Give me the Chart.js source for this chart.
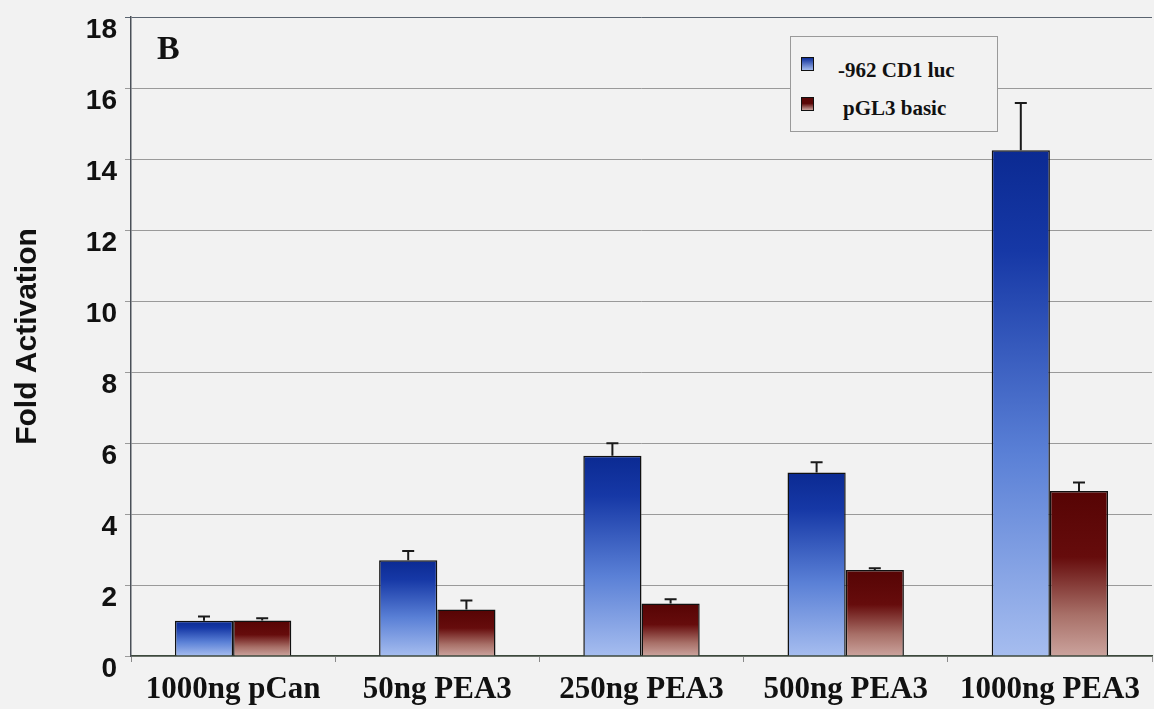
<!DOCTYPE html>
<html>
<head>
<meta charset="utf-8">
<script src="https://cdn.jsdelivr.net/npm/chart.js@4"></script>
<style>
  html, body { margin: 0; padding: 0; background: #f2f2f2; }
  .wrap { position: relative; width: 1154px; height: 709px; }
  .panel { position: absolute; left: 157px; top: 29px; font: bold 34px "Liberation Serif", serif; color: #111; }
  .legend { position: absolute; left: 790px; top: 36px; width: 206px; height: 94px; border: 1px solid #9a9a9a; background: #f2f2f2; }
  .legend .item { position: absolute; font: bold 21px "Liberation Serif", serif; color: #111; white-space: nowrap; }
  .legend .box { position: absolute; width: 11px; height: 12px; border: 1px solid #111; }
</style>
</head>
<body>
<div class="wrap">
  <canvas id="myChart" width="1154" height="709"></canvas>
  <div class="panel">B</div>
  <div class="legend">
    <div class="box" style="left:10px; top:20px; background:linear-gradient(#0d2e9a, #a3bbee);"></div>
    <div class="item" style="left:47px; top:21px;">-962 CD1 luc</div>
    <div class="box" style="left:10px; top:60px; background:linear-gradient(#5a0606 45%, #c9a19b);"></div>
    <div class="item" style="left:52px; top:59px;">pGL3 basic</div>
  </div>
</div>
<script>
const categories = ['1000ng pCan', '50ng PEA3', '250ng PEA3', '500ng PEA3', '1000ng PEA3'];
const seriesNames = ['-962 CD1 luc', 'pGL3 basic'];
const cd1Values = [0.99, 2.70, 5.64, 5.17, 14.25];
const cd1Errors = [0.12, 0.26, 0.35, 0.29, 1.33];
const pglValues = [1.0, 1.31, 1.48, 2.42, 4.65];
const pglErrors = [0.06, 0.25, 0.12, 0.05, 0.24];
const yTicks = [0, 2, 4, 6, 8, 10, 12, 14, 16, 18];

// вертикальный градиент на каждый столбец
function barGradient(stops) {
  return function (context) {
    const chart = context.chart;
    if (!chart.chartArea || context.raw === undefined) return stops[0][1];
    const y = chart.scales.y;
    const top = y.getPixelForValue(context.raw);
    const bottom = y.getPixelForValue(0);
    const g = chart.ctx.createLinearGradient(0, top, 0, bottom);
    stops.forEach(s => g.addColorStop(s[0], s[1]));
    return g;
  };
}

const blueStops = [[0, '#0b2a92'], [0.2, '#1638a6'], [0.6, '#5a80d6'], [1, '#a6bdef']];
const redStops = [[0, '#560404'], [0.4, '#660c0c'], [0.75, '#a87068'], [1, '#cba39d']];

const errorBars = {
  id: 'errorBars',
  afterDatasetsDraw(chart) {
    const ctx = chart.ctx;
    const y = chart.scales.y;
    ctx.save();
    ctx.strokeStyle = '#1a1a1a';
    ctx.lineWidth = 2;
    chart.data.datasets.forEach((ds, di) => {
      const meta = chart.getDatasetMeta(di);
      meta.data.forEach((bar, i) => {
        const top = y.getPixelForValue(ds.data[i] + ds.errors[i]);
        ctx.beginPath();
        ctx.moveTo(bar.x, bar.y);
        ctx.lineTo(bar.x, top);
        ctx.moveTo(bar.x - 6, top);
        ctx.lineTo(bar.x + 6, top);
        ctx.stroke();
      });
    });
    ctx.restore();
  }
};

const ctx = document.getElementById('myChart').getContext('2d');

const myChart = new Chart(ctx, {
  type: 'bar',
  data: {
    labels: categories,
    datasets: [{
      label: seriesNames[0],
      data: cd1Values,
      errors: cd1Errors,
      backgroundColor: barGradient(blueStops),
      borderColor: '#111',
      borderWidth: 1.5
    }, {
      label: seriesNames[1],
      data: pglValues,
      errors: pglErrors,
      backgroundColor: barGradient(redStops),
      borderColor: '#111',
      borderWidth: 1.5
    }]
  },
  options: {
    responsive: false,
    animation: false,
    layout: { autoPadding: false, padding: { top: 17, right: 2, left: 0, bottom: 0 } },
    categoryPercentage: 0.57,
    barPercentage: 1.0,
    plugins: {
      legend: { display: false },
      tooltip: { enabled: false }
    },
    scales: {
      x: {
        grid: {
          drawOnChartArea: false,
          color: '#8a8a8a',
          tickLength: 6
        },
        border: { color: '#3d4a3d', width: 1.5 },
        ticks: {
          color: '#111',
          padding: 9,
          font: { family: 'Liberation Serif', weight: 'bold', size: 31 }
        },
        afterFit: scale => { scale.height = 53; }
      },
      y: {
        min: 0,
        max: 18,
        afterBuildTicks: scale => { scale.ticks = yTicks.map(v => ({ value: v })); },
        grid: {
          color: c => c.tick && c.tick.value === 18 ? '#5a6470' : '#9a9a9a',
          lineWidth: 1,
          tickLength: 6
        },
        border: { color: '#4a5058', width: 1.5 },
        ticks: {
          color: '#111',
          padding: 8,
          labelOffset: 13,
          font: { family: 'Liberation Sans', weight: 'bold', size: 28, lineHeight: 1 }
        },
        title: {
          display: true,
          text: 'Fold Activation',
          color: '#111',
          padding: { top: 10, bottom: 0 },
          font: { family: 'Liberation Sans', weight: 'bold', size: 30 }
        },
        afterFit: scale => {
          scale.width = 131;
          scale.paddingTop = 0;
          scale.paddingBottom = 0;
        }
      }
    }
  },
  plugins: [errorBars]
});
</script>
</body>
</html>
